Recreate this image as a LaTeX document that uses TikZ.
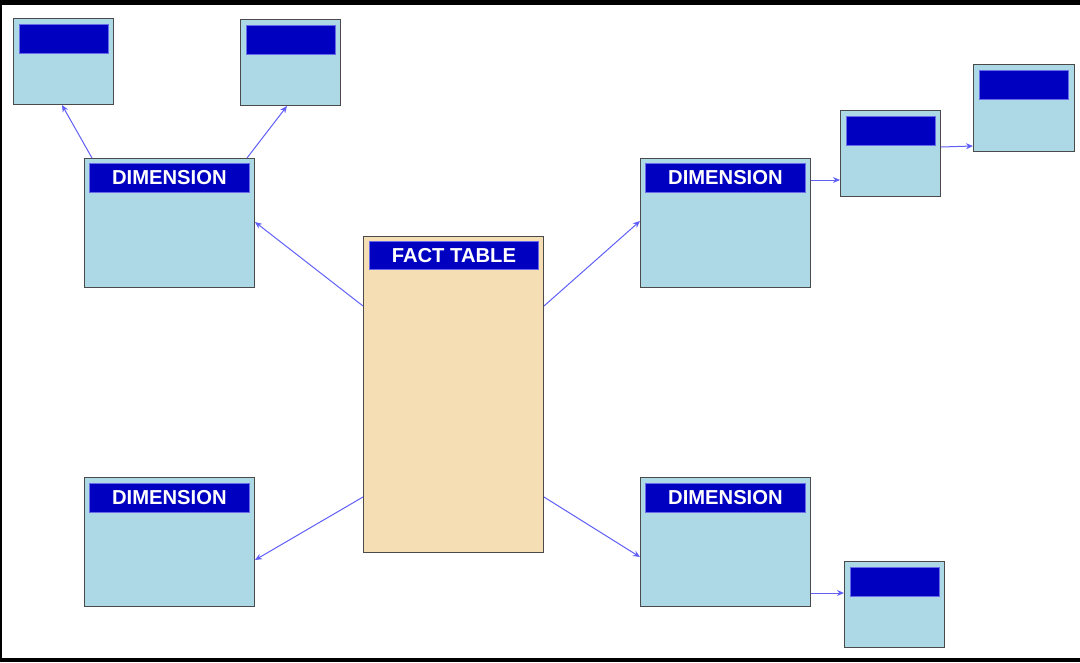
\documentclass[tikz,border=0pt]{standalone}
\usepackage{fontspec}
\setmainfont{Liberation Sans}[BoldFont={Liberation Sans Bold}]
\usetikzlibrary{arrows.meta,calc}
\definecolor{lightblu}{HTML}{ADD8E6}
\definecolor{hdrblue}{HTML}{0000C0}
\definecolor{hdrline}{HTML}{6A6AE8}
\definecolor{wheatc}{HTML}{F5DEB3}
\definecolor{boxline}{HTML}{4A4A4A}
\definecolor{arrowc}{HTML}{6060F8}
\begin{document}
\begin{tikzpicture}[x=1pt,y=-1pt,
  box/.style={draw=boxline,fill=lightblu,line width=1pt,inner sep=0pt,anchor=north west},
  smallbox/.style={box,minimum width=100,minimum height=86},
  dimbox/.style={box,minimum width=170,minimum height=129},
  factbox/.style={box,fill=wheatc,minimum width=180,minimum height=316},
  hdr/.style={draw=hdrline,fill=hdrblue,line width=0.8pt,inner sep=0pt,anchor=north west,
    text=white,font=\fontsize{20.2}{24}\selectfont\bfseries},
  smallhdr/.style={hdr,minimum width=89,minimum height=29},
  dimhdr/.style={hdr,minimum width=160,minimum height=29},
  conn/.style={draw=arrowc,line width=1pt,-{Stealth[length=7pt,width=6pt]}}]
\useasboundingbox (0,0) rectangle (1080,662);
\fill[black] (0,0) rectangle (1080,662);
\fill[white] (2,5) rectangle (1080,658);

% small boxes
\node[smallbox] (s1) at (13,18) {};
\node[smallhdr] (s1h) at (19,24) {};
\node[smallbox] (s2) at (240,19) {};
\node[smallhdr] (s2h) at (246,25) {};
\node[smallbox] (r1) at (840,110) {};
\node[smallhdr] (r1h) at (846,116) {};
\node[smallbox,minimum width=101,minimum height=87] (r2) at (973,64) {};
\node[smallhdr] (r2h) at (979,70) {};
\node[smallbox] (b1) at (844,561) {};
\node[smallhdr] (b1h) at (850,567) {};

% dimension boxes
\node[dimbox] (dtl) at (84,158) {};
\node[dimhdr] (dtlh) at (89,163) {DIMENSION};
\node[dimbox] (dtr) at (640,158) {};
\node[dimhdr] (dtrh) at (645,163) {DIMENSION};
\node[dimbox] (dbl) at (84,477) {};
\node[dimhdr] (dblh) at (89,483) {DIMENSION};
\node[dimbox] (dbr) at (640,477) {};
\node[dimhdr] (dbrh) at (645,483) {DIMENSION};

% fact table
\node[factbox] (fact) at (363,236) {};
\node[hdr,minimum width=169,minimum height=28] (facth) at (369,241) {FACT TABLE};

% connectors
\draw[conn] ([xshift=8]dtl.north west) -- ([xshift=49]s1.south west);
\draw[conn] ([xshift=-8]dtl.north east) -- ([xshift=47]s2.south west);
\draw[conn] ([yshift=-70]fact.north west) -- ([yshift=-64]dtl.north east);
\draw[conn] ([yshift=-70]fact.north east) -- ([yshift=-63]dtr.north west);
\draw[conn] ([yshift=-261]fact.north west) -- ([yshift=-83]dbl.north east);
\draw[conn] ([yshift=-261]fact.north east) -- ([yshift=-80]dbr.north west);
\draw[conn] ([yshift=-22]dtr.north east) -- ([yshift=-70]r1.north west);
\draw[conn] ([yshift=-37]r1.north east) -- ([yshift=-82]r2.north west);
\draw[conn] ([yshift=-116]dbr.north east) -- ([yshift=-32]b1.north west);
\end{tikzpicture}
\end{document}
